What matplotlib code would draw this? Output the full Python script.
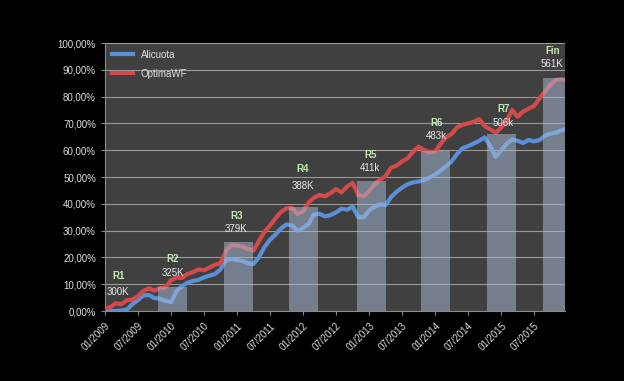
import matplotlib
matplotlib.use("Agg")
import matplotlib.pyplot as plt
import matplotlib.dates as mdates
import pandas as pd

# Monthly readings (cumulative return, %) from 01/2009 to 01/2016
months = pd.date_range("2009-01-01", periods=85, freq="MS")

alicuota = [0.0, 0.0, 0.0, 0.2, 0.5, 2.5, 4.0, 5.8, 6.0, 4.8,
            4.6, 3.8, 3.3, 7.5, 9.2, 10.5, 11.2, 11.6, 12.5, 13.2,
            13.8, 15.5, 19.0, 19.4, 19.0, 18.6, 17.8, 17.5, 20.0, 23.8,
            26.5, 28.5, 30.8, 32.3, 32.0, 30.0, 31.0, 32.5, 36.0, 36.3,
            35.3, 35.8, 36.8, 38.2, 37.8, 39.0, 35.0, 35.0, 37.5, 39.0,
            39.8, 39.5, 42.5, 44.5, 46.0, 47.3, 48.0, 48.3, 48.8, 49.8,
            51.0, 52.5, 54.0, 55.8, 58.5, 60.8, 61.5, 62.5, 63.5, 64.8,
            61.5, 57.5, 60.0, 62.5, 64.0, 63.5, 62.7, 63.8, 63.3, 63.8,
            65.5, 66.2, 66.6, 67.5, 68.0]

optimawf = [0.8, 1.5, 2.9, 2.5, 4.0, 4.2, 5.5, 7.5, 8.5, 7.6,
            8.6, 8.8, 11.5, 12.5, 12.3, 13.8, 14.5, 15.5, 15.2, 16.2,
            17.3, 17.8, 22.5, 24.6, 24.4, 24.0, 23.2, 22.5, 26.0, 29.5,
            31.8, 34.5, 37.0, 38.3, 38.5, 36.2, 37.2, 40.5, 42.3, 43.3,
            42.8, 44.0, 45.5, 44.3, 46.5, 47.8, 43.2, 42.8, 44.8, 47.5,
            49.0, 50.3, 53.5, 54.2, 55.8, 57.0, 59.5, 61.3, 60.0, 59.2,
            59.5, 62.5, 64.8, 66.0, 68.5, 69.5, 70.0, 70.6, 71.6, 69.0,
            67.8, 66.5, 68.5, 71.0, 75.0, 72.5, 74.4, 75.5, 76.5, 79.5,
            82.0, 84.5, 86.3, 86.5, 86.2]

# Capital checkpoints (bars)
bar_names = ["R1", "R2", "R3", "R4", "R5", "R6", "R7", "Fin"]
bar_capital = ["300K", "325K", "379K", "388K", "411k", "483k", "506k", "561K"]
bar_dates = pd.to_datetime(["2009-01-01", "2010-01-08", "2011-01-10", "2012-01-04",
                            "2013-01-12", "2014-01-02", "2015-01-04", "2015-11-10"])
bar_heights = [0.0, 8.8, 25.9, 38.8, 48.6, 59.6, 66.2, 87.1]

label_dates = pd.to_datetime(["2009-03-16", "2010-01-10", "2010-12-29", "2012-01-01",
                              "2013-01-07", "2014-01-07", "2015-01-13", "2015-10-10"])
name_y = [13.1, 19.3, 35.4, 52.9, 58.3, 70.3, 75.4, 97.1]
capital_y = [7.2, 14.3, 30.5, 46.8, 53.2, 65.4, 70.3, 92.1]

y_ticks = [0, 10, 20, 30, 40, 50, 60, 70, 80, 90, 100]
y_ticklabels = ["0,00%", "10,00%", "20,00%", "30,00%", "40,00%", "50,00%",
                "60,00%", "70,00%", "80,00%", "90,00%", "100,00%"]

plt.rcParams["font.family"] = ["Liberation Sans", "DejaVu Sans"]

fig = plt.figure(figsize=(6.24, 3.81), dpi=100, facecolor="black")
ax = fig.add_axes([0.1683, 0.1837, 0.7371, 0.7034])
ax.set_facecolor("#404040")

ax.plot(months, alicuota, color="#5b8fd6", lw=3.0, label="Alicuota", zorder=3)
ax.plot(months, optimawf, color="#d44a4a", lw=3.0, label="OptimaWF", zorder=3)

ax.bar(bar_dates, bar_heights, width=160, color="#a8bcd8", alpha=0.5,
       edgecolor="none", zorder=4)

for d, n, yn, c, yc in zip(label_dates, bar_names, name_y, bar_capital, capital_y):
    ax.text(d, yn, n, color="#c6e6b4", fontsize=7, fontweight="bold",
            ha="center", va="center", zorder=5)
    ax.text(d, yc, c, color="#e8e8e8", fontsize=7, ha="center", va="center", zorder=5)

ax.set_ylim(0, 100)
ax.set_xlim(pd.Timestamp("2009-01-01"), pd.Timestamp("2015-12-19"))
ax.set_yticks(y_ticks)
ax.set_yticklabels(y_ticklabels)
ax.xaxis.set_major_locator(mdates.MonthLocator(bymonth=[1, 7]))
ax.xaxis.set_major_formatter(mdates.DateFormatter("%m/%Y"))
for lbl in ax.get_xticklabels():
    lbl.set_rotation(45)
    lbl.set_ha("right")
    lbl.set_va("top")
    lbl.set_rotation_mode("anchor")

ax.grid(axis="y", color="#9a9a9a", lw=0.8, zorder=1)
ax.set_axisbelow(True)
ax.tick_params(colors="#8a8a8a", labelcolor="#dddddd", labelsize=7, length=3)
ax.tick_params(axis="x", pad=4)
for side in ["top", "right"]:
    ax.spines[side].set_visible(False)
for side in ["left", "bottom"]:
    ax.spines[side].set_color("#8a8a8a")

leg = ax.legend(loc="upper left", frameon=False, fontsize=7, handlelength=2.2,
                labelcolor="#e0e0e0", borderaxespad=0.3, labelspacing=0.9)

fig.savefig("out.png", dpi=100, facecolor="black")
